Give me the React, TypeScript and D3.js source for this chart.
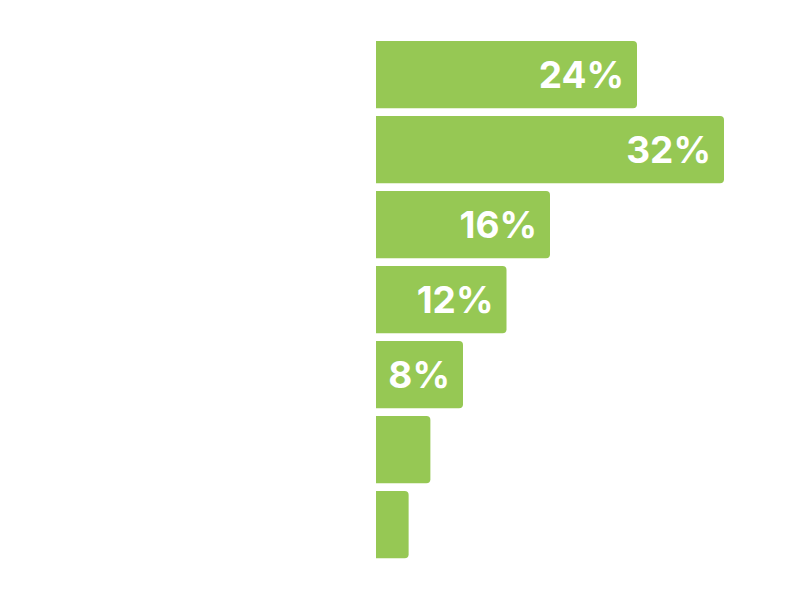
import React, { useRef, useEffect } from 'react';
import { select, scaleLinear, scaleBand } from 'd3';

const categories = ['c1', 'c2', 'c3', 'c4', 'c5', 'c6', 'c7'];
const values = [24, 32, 16, 12, 8, 5, 3];

const W = 800;
const H = 600;
const barColor = '#96c854';

function roundedRight(x0: number, y: number, w: number, h: number, r: number) {
  const rr = Math.min(r, w / 2, h / 2);
  return `M${x0},${y}H${x0 + w - rr}Q${x0 + w},${y} ${x0 + w},${y + rr}V${y + h - rr}Q${x0 + w},${y + h} ${x0 + w - rr},${y + h}H${x0}Z`;
}

function BarChart() {
  const svgRef: any = useRef();

  useEffect(() => {
    const svg = select(svgRef.current);
    svg.selectAll('*').remove();

    const xScale: any = scaleLinear().domain([0, 32]).range([376, 724]);
    const yScale: any = scaleBand().domain(categories).range([37.3, 562]).paddingInner(0.103).paddingOuter(0.05);

    const g = svg.append('g');
    const rows = g
      .selectAll('g.row')
      .data(values)
      .join('g')
      .attr('class', 'row');

    rows
      .append('path')
      .attr('d', (d: any, i: number) =>
        roundedRight(xScale(0), yScale(categories[i]), xScale(d) - xScale(0), yScale.bandwidth(), 4)
      )
      .attr('fill', barColor);

    rows
      .append('text')
      .attr('x', (d: any) => xScale(d) - 13)
      .attr('y', (d: any, i: number) => yScale(categories[i]) + yScale.bandwidth() / 2)
      .attr('dy', '0.36em')
      .attr('text-anchor', 'end')
      .attr('fill', '#ffffff')
      .style('font-family', 'Inter, "Open Sans", sans-serif')
      .style('font-weight', 700)
      .style('font-size', '37px')
      .text((d: any) => `${d}%`)
      .each(function (this: any, d: any) {
        const tw = this.getComputedTextLength();
        if (tw + 20 > xScale(d) - xScale(0)) select(this).remove();
      });
  }, []);

  return <svg ref={svgRef} width={W} height={H} style={{ position: 'absolute', left: 0, top: 0 }} />;
}

export default function App() {
  return <BarChart />;
}
